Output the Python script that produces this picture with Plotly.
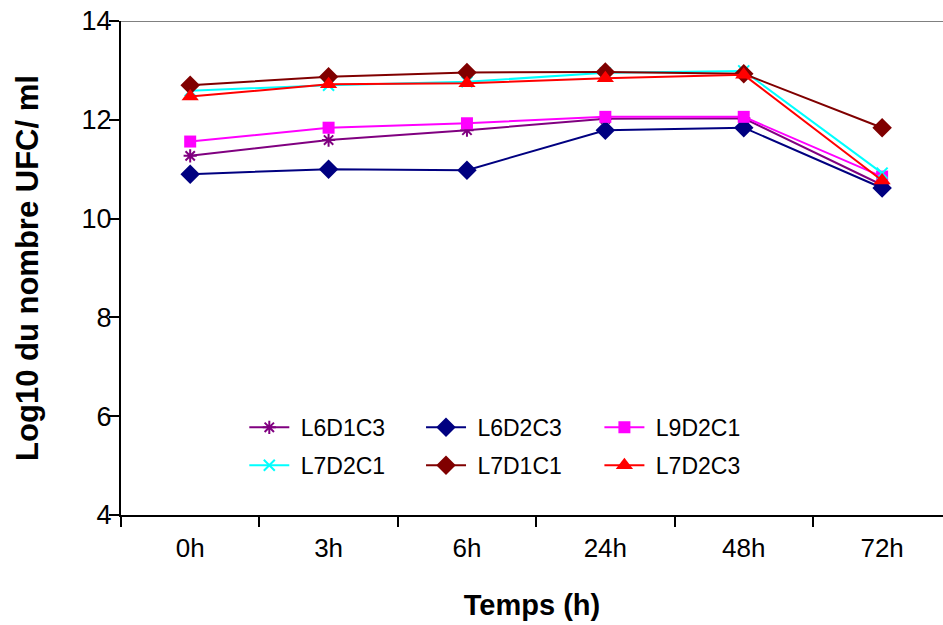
import plotly.graph_objects as go

categories = ["0h", "3h", "6h", "24h", "48h", "72h"]

L6D1C3 = [11.27, 11.59, 11.79, 12.02, 12.03, 10.68]
L6D2C3 = [10.90, 11.00, 10.98, 11.79, 11.84, 10.62]
L9D2C1 = [11.56, 11.84, 11.93, 12.06, 12.06, 10.85]
L7D2C1 = [12.59, 12.70, 12.77, 12.95, 12.99, 10.92]
L7D1C1 = [12.70, 12.87, 12.96, 12.97, 12.93, 11.84]
L7D2C3 = [12.47, 12.72, 12.74, 12.84, 12.91, 10.77]

series = [
    ("L6D1C3", L6D1C3, "#800080", "asterisk-open", 11, "legend"),
    ("L6D2C3", L6D2C3, "#000080", "diamond", 15, "legend2"),
    ("L9D2C1", L9D2C1, "#FF00FF", "square", 12, "legend3"),
    ("L7D2C1", L7D2C1, "#00FFFF", "x-thin-open", 11, "legend"),
    ("L7D1C1", L7D1C1, "#800000", "diamond", 15, "legend2"),
    ("L7D2C3", L7D2C3, "#FF0000", "triangle-up", 15, "legend3"),
]

fig = go.Figure()
for name, vals, color, sym, size, leg in series:
    fig.add_trace(go.Scatter(
        x=categories, y=vals, name=" " + name, mode="lines+markers",
        line=dict(color=color, width=2),
        marker=dict(symbol=sym, size=size, color=color,
                    line=dict(color=color, width=2 if "open" in sym else 0)),
        legend=leg, legendgroup=name,
    ))

legend_common = dict(
    orientation="v", yanchor="top", xanchor="left", y=0.221,
    font=dict(family="Liberation Sans, Arial", size=23, color="#000"),
    bgcolor="rgba(0,0,0,0)", tracegroupgap=5, itemwidth=40,
)

fig.update_layout(
    width=943, height=625,
    margin=dict(l=121, r=0, t=21, b=110),
    plot_bgcolor="white", paper_bgcolor="white",
    font=dict(family="Liberation Sans, Arial", color="#000"),
    showlegend=True,
    legend=dict(x=0.15, **legend_common),
    legend2=dict(x=0.365, **legend_common),
    legend3=dict(x=0.582, **legend_common),
    xaxis=dict(
        type="category", range=[-0.5, 5.44], tickson="boundaries",
        ticks="outside", ticklen=10, tickwidth=2, tickcolor="#000",
        showline=True, linecolor="#000", linewidth=2, showgrid=False,
        tickfont=dict(size=26), zeroline=False, ticklabelstandoff=9,
        title=dict(text="<b>Temps (h)</b>", font=dict(size=29), standoff=32),
    ),
    yaxis=dict(
        range=[4, 14], tickvals=[4, 6, 8, 10, 12, 14],
        ticks="outside", ticklen=10, tickwidth=2, tickcolor="#000",
        showline=True, linecolor="#000", linewidth=2, showgrid=False,
        tickfont=dict(size=27), zeroline=False, ticklabelstandoff=-8,
        title=dict(text="<b>Log10 du nombre UFC/ ml</b>", font=dict(size=31), standoff=34),
    ),
    shapes=[dict(type="line", xref="paper", yref="y", x0=0, x1=1, y0=14, y1=14,
                 line=dict(color="#808080", width=2), layer="below")],
)

fig.write_html("out.html")
